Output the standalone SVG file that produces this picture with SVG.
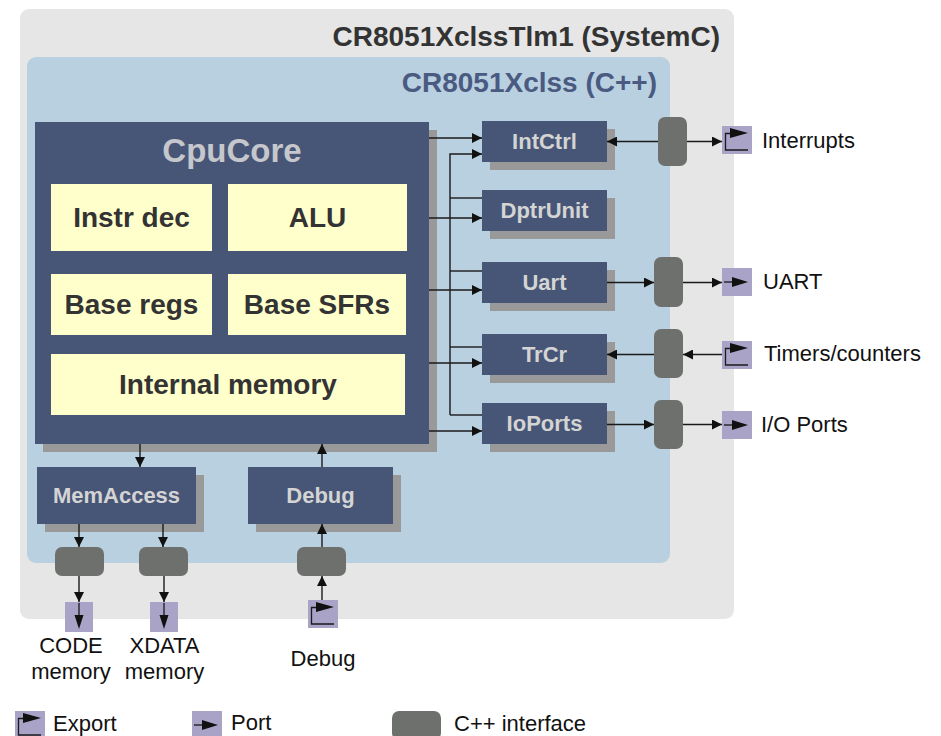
<svg xmlns="http://www.w3.org/2000/svg" width="941" height="736" viewBox="0 0 941 736">
<style>
.mod{fill:#475677}
.sh{fill:#999999}
.mt{font-family:"Liberation Sans",Arial,sans-serif;font-weight:bold;font-size:22px;fill:#d4d4d4;text-anchor:middle}
.sub{fill:#ffffcc}
.st{font-family:"Liberation Sans",Arial,sans-serif;font-weight:bold;font-size:28px;fill:#333333;text-anchor:middle}
.if{fill:#6e706e}
.lbl{font-family:"Liberation Sans",Arial,sans-serif;font-size:22px;fill:#111111}
.cn{stroke:#1a1a1a;stroke-width:1.4;fill:none}
.ar{marker-end:url(#arr)}
.pt{fill:#aaa3c8}
.sym{stroke:#1a1a1a;stroke-width:1.3;fill:none}
</style>
<defs>
<marker id="arr" viewBox="0 0 10 10" refX="10" refY="5" markerWidth="10" markerHeight="10" markerUnits="userSpaceOnUse" orient="auto">
<path d="M0,0 L10,5 L0,10 z" fill="#111111"/>
</marker>
<g id="exportSym">
<rect width="30" height="28" class="pt"/>
<path d="M26,24 H3.5 V7.5 H8" class="sym"/>
<polygon points="8,2 26,7 8,12" fill="#111111"/>
</g>
<g id="portR">
<rect width="30" height="28" class="pt"/>
<path d="M2,14 H12" class="sym"/>
<polygon points="10,9 26,14 10,19" fill="#111111"/>
</g>
<g id="portD">
<rect width="28" height="30" class="pt"/>
<path d="M14,1 V13" class="sym"/>
<polygon points="9.5,13 14,27 18.5,13" fill="#111111"/>
</g>
</defs>

<g id="systemc">
<rect x="20" y="9" width="714" height="610" rx="9" fill="#e6e6e6"/>
<text x="720" y="46" font-family="Liberation Sans,Arial,sans-serif" font-weight="bold" font-size="28" fill="#333333" text-anchor="end">CR8051XclssTlm1 (SystemC)</text>
</g>
<g id="cpp">
<rect x="27" y="57" width="643" height="506" rx="9" fill="#b8d0e0"/>
<text x="657" y="92" font-family="Liberation Sans,Arial,sans-serif" font-weight="bold" font-size="28" fill="#4a5a80" text-anchor="end">CR8051Xclss (C++)</text>
</g>

<g id="cpucore">
<rect x="43" y="130" width="394" height="322" class="sh"/>
<rect x="35" y="122" width="394" height="322" class="mod"/>
<text x="232" y="162" font-family="Liberation Sans,Arial,sans-serif" font-weight="bold" font-size="33" fill="#c6c7cc" text-anchor="middle">CpuCore</text>
<g id="instrdec"><rect x="51" y="184" width="161" height="67" class="sub"/><text x="131.5" y="227" class="st">Instr dec</text></g>
<g id="alu"><rect x="228" y="184" width="179" height="67" class="sub"/><text x="317.5" y="227" class="st">ALU</text></g>
<g id="baseregs"><rect x="51" y="274" width="161" height="61" class="sub"/><text x="131.5" y="314" class="st">Base regs</text></g>
<g id="basesfrs"><rect x="228" y="274" width="178" height="61" class="sub"/><text x="317" y="314" class="st">Base SFRs</text></g>
<g id="intmem"><rect x="51" y="354" width="354" height="61" class="sub"/><text x="228" y="394" class="st">Internal memory</text></g>
</g>

<g id="intctrl"><rect x="490" y="129" width="125" height="41" class="sh"/><rect x="482" y="121" width="125" height="41" class="mod"/><text x="544.5" y="149" class="mt">IntCtrl</text></g>
<g id="dptrunit"><rect x="490" y="198" width="125" height="41" class="sh"/><rect x="482" y="190" width="125" height="41" class="mod"/><text x="544.5" y="218" class="mt">DptrUnit</text></g>
<g id="uart"><rect x="490" y="270" width="125" height="41" class="sh"/><rect x="482" y="262" width="125" height="41" class="mod"/><text x="544.5" y="290" class="mt">Uart</text></g>
<g id="trcr"><rect x="490" y="342" width="125" height="41" class="sh"/><rect x="482" y="334" width="125" height="41" class="mod"/><text x="544.5" y="362" class="mt">TrCr</text></g>
<g id="ioports"><rect x="490" y="411" width="125" height="41" class="sh"/><rect x="482" y="403" width="125" height="41" class="mod"/><text x="544.5" y="431" class="mt">IoPorts</text></g>
<g id="memaccess"><rect x="45" y="475" width="159" height="57" class="sh"/><rect x="37" y="467" width="159" height="57" class="mod"/><text x="116.5" y="503" class="mt">MemAccess</text></g>
<g id="debug"><rect x="256" y="475" width="145" height="57" class="sh"/><rect x="248" y="467" width="145" height="57" class="mod"/><text x="320.5" y="503" class="mt">Debug</text></g>

<g id="if-intctrl"><rect x="658" y="117" width="29" height="49" rx="7" class="if"/></g>
<g id="if-uart"><rect x="654" y="257" width="29" height="50" rx="7" class="if"/></g>
<g id="if-trcr"><rect x="654" y="329" width="29" height="49" rx="7" class="if"/></g>
<g id="if-ioports"><rect x="654" y="400" width="29" height="49" rx="7" class="if"/></g>
<g id="if-code"><rect x="55" y="547" width="49" height="29" rx="7" class="if"/></g>
<g id="if-xdata"><rect x="139" y="547" width="49" height="29" rx="7" class="if"/></g>
<g id="if-debug"><rect x="297" y="547" width="49" height="29" rx="7" class="if"/></g>

<g id="port-interrupts"><use href="#exportSym" x="722" y="126"/><text x="762" y="148" class="lbl">Interrupts</text></g>
<g id="port-uart"><use href="#portR" x="722" y="268"/><text x="763" y="289" class="lbl">UART</text></g>
<g id="port-timers"><use href="#exportSym" x="722" y="341"/><text x="764" y="361" class="lbl">Timers/counters</text></g>
<g id="port-io"><use href="#portR" x="722" y="411"/><text x="761" y="432" class="lbl">I/O Ports</text></g>
<g id="port-code"><use href="#portD" x="65" y="602"/><text x="71" y="653" class="lbl" text-anchor="middle">CODE</text><text x="71" y="679" class="lbl" text-anchor="middle">memory</text></g>
<g id="port-xdata"><use href="#portD" x="150" y="602"/><text x="164.5" y="653" class="lbl" text-anchor="middle">XDATA</text><text x="164.5" y="679" class="lbl" text-anchor="middle">memory</text></g>
<g id="port-debug"><use href="#exportSym" x="308" y="600"/><text x="323" y="666" class="lbl" text-anchor="middle">Debug</text></g>

<g id="connectors">
<path d="M429,138 H482" class="cn ar"/>
<path d="M429,218 H482" class="cn ar"/>
<path d="M429,290 H482" class="cn ar"/>
<path d="M429,363 H482" class="cn ar"/>
<path d="M429,431 H482" class="cn ar"/>
<path d="M450,415 V154 H482" class="cn ar"/>
<path d="M450,198 H482" class="cn"/>
<path d="M450,271 H482" class="cn"/>
<path d="M450,347 H482" class="cn"/>
<path d="M450,415 H482" class="cn"/>
<path d="M658,141.5 H607" class="cn ar"/>
<path d="M687,141.5 H722" class="cn ar"/>
<path d="M607,282.5 H654" class="cn ar"/>
<path d="M683,282.5 H722" class="cn ar"/>
<path d="M654,354.5 H607" class="cn ar"/>
<path d="M722,354.5 H683" class="cn ar"/>
<path d="M607,424.5 H654" class="cn ar"/>
<path d="M683,424.5 H722" class="cn ar"/>
<path d="M140,444 V467" class="cn ar"/>
<path d="M79,524 V547" class="cn ar"/>
<path d="M163,524 V547" class="cn ar"/>
<path d="M79,576 V602" class="cn ar"/>
<path d="M164,576 V602" class="cn ar"/>
<path d="M322,600 V576" class="cn ar"/>
<path d="M322,547 V524" class="cn ar"/>
<path d="M322,467 V444" class="cn ar"/>
</g>

<g id="legend">
<use href="#exportSym" x="15" y="711"/>
<text x="53" y="731" class="lbl">Export</text>
<use href="#portR" x="192" y="711"/>
<text x="231" y="730" class="lbl">Port</text>
<rect x="392" y="711" width="49" height="29" rx="7" class="if"/>
<text x="454" y="731" class="lbl">C++ interface</text>
</g>
</svg>
